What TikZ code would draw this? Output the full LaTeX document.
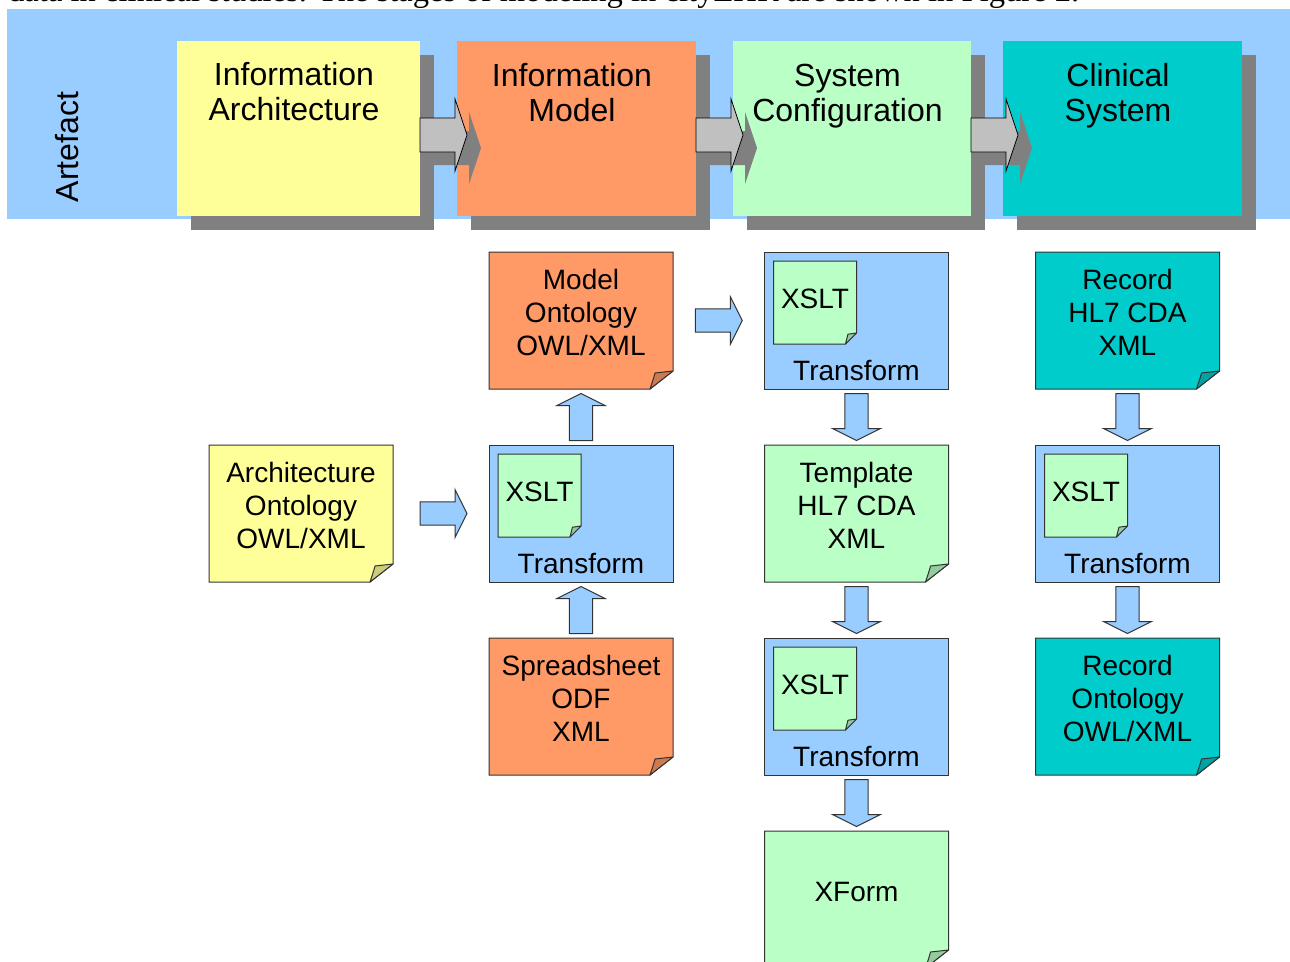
\documentclass[tikz,border=0pt]{standalone}
\usepackage{fontspec}
\setmainfont{Liberation Sans}
\newfontfamily\captionserif{Liberation Serif}
\usetikzlibrary{calc}
\definecolor{bandblue}{HTML}{99CCFF}
\definecolor{cyellow}{HTML}{FFFF99}
\definecolor{corange}{HTML}{FF9966}
\definecolor{cgreen}{HTML}{B9FFC6}
\definecolor{cteal}{HTML}{00CCCC}
\definecolor{cshadow}{HTML}{808080}
\definecolor{carrow}{HTML}{C0C0C0}
\definecolor{cline}{HTML}{333333}
\colorlet{cyellowd}{cyellow!80!black}
\colorlet{coranged}{corange!80!black}
\colorlet{cgreend}{cgreen!80!black}
\colorlet{ctead}{cteal!80!black}
% #1 node, #2 fill, #3 flap fill, #4 fold dx, #5 fold dy
\newcommand\foldbox[5]{%
  \filldraw[fill=#2,boxline] (#1.north west) -- (#1.north east) -- ($(#1.south east)+(0,-#5)$)
     -- ($(#1.south east)+(-#4,0)$) -- (#1.south west) -- cycle;
  \filldraw[fill=#3,boxline,line join=round] ($(#1.south east)+(0,-#5)$)
     -- ($(#1.south east)+(-0.78*#4,-0.89*#5)$)
     .. controls ($(#1.south east)+(-0.87*#4,-0.5*#5)$) .. ($(#1.south east)+(-#4,0)$) -- cycle;
}
\tikzset{
  boxline/.style={draw=cline, line width=1pt},
  stagebox/.style={inner sep=0pt, outer sep=0pt, minimum height=175pt},
  stagelabel/.style={anchor=north, inner sep=0pt, align=center, font=\fontsize{32}{35}\selectfont},
  docbox/.style={inner sep=0pt, outer sep=0pt, minimum width=184pt, minimum height=137pt},
  xsltbox/.style={inner sep=0pt, outer sep=0pt, minimum width=83pt, minimum height=83pt},
  doclabel/.style={anchor=north, inner sep=0pt, align=center, font=\fontsize{28}{33}\selectfont},
  transformbox/.style={docbox, fill=bandblue, boxline},
  pics/stagearrow/.style={code={
    \fill[cshadow, shift={(14,13)}] (0,-17) -- (35,-17) -- (35,-36) -- (47,0) -- (35,36) -- (35,17) -- (0,17) -- cycle;
    \filldraw[fill=carrow, draw=black, line width=0.8pt] (0,-17) -- (35,-17) -- (35,-36) -- (47,0) -- (35,36) -- (35,17) -- (0,17) -- cycle;
  }},
  pics/flowarrow/.style={code={
    \filldraw[fill=bandblue, boxline, line join=miter] (-23.5,-11.7) -- (11.5,-11.7) -- (11.5,-24) -- (23.5,0) -- (11.5,24) -- (11.5,11.7) -- (-23.5,11.7) -- cycle;
  }},
}
\begin{document}
\begin{tikzpicture}[x=1pt,y=-1pt]
\useasboundingbox (0,0) rectangle (1290,961);
% caption line cut at the top (as in the reference)
\node[anchor=base west, inner sep=0pt, font=\captionserif\fontsize{32.6}{36}\selectfont] (caption) at (8,1.5)
  {data in clinical studies. The stages of modeling in cityEHR are shown in Figure 2.};
% artefact band
\node[fill=bandblue, anchor=north west, inner sep=0pt, outer sep=0pt, minimum width=1283pt, minimum height=210pt] (band) at (7,9) {};
\node[rotate=90, inner sep=0pt, font=\fontsize{32}{35}\selectfont] (artefact) at (67,147) {Artefact};
% stage boxes
\coordinate (iaC) at (298.5,128.5);
\coordinate (imC) at (576.5,128.5);
\coordinate (scC) at (852,128.5);
\coordinate (csC) at (1122.5,128.5);
\node[stagebox, minimum width=243pt] (ia) at (iaC) {};
\node[stagebox, minimum width=239pt] (im) at (imC) {};
\node[stagebox, minimum width=238pt] (sc) at (scC) {};
\node[stagebox, minimum width=239pt] (cs) at (csC) {};
\foreach \n in {ia,im,sc,cs}{
  \fill[cshadow] ($(\n.north west)+(14,14)$) rectangle ($(\n.south east)+(14,14)$);
}
\fill[cyellow] (ia.north west) rectangle (ia.south east);
\fill[corange] (im.north west) rectangle (im.south east);
\fill[cgreen] (sc.north west) rectangle (sc.south east);
\fill[cteal] (cs.north west) rectangle (cs.south east);
\pic at ($(ia.east)+(0,6.5)$) {stagearrow};
\pic at ($(im.east)+(0,6.5)$) {stagearrow};
\pic at ($(sc.east)+(0,6.5)$) {stagearrow};
\node[stagelabel] (ial) at ($(ia.north)+(-4.5,20)$) {\strut Information\\Architecture};
\node[stagelabel] (iml) at ($(im.north)+(-4.5,20.5)$) {\strut Information\\Model};
\node[stagelabel] (scl) at ($(sc.north)+(-4.5,20.5)$) {\strut System\\Configuration};
\node[stagelabel] (csl) at ($(cs.north)+(-4.5,20.5)$) {\strut Clinical\\System};
% lower documents
\node[docbox] (arch) at (301,513.5) {};
\foldbox{arch}{cyellow}{cyellowd}{23}{18}
\node[doclabel] (archl) at ($(arch.north)+(0,14.4)$) {\strut Architecture\\Ontology\\OWL/XML};

\node[docbox] (modont) at (581,320.5) {};
\foldbox{modont}{corange}{coranged}{23}{18}
\node[doclabel] (modontl) at ($(modont.north)+(0,14.4)$) {\strut Model\\Ontology\\OWL/XML};

\node[transformbox] (trb) at (581,513.5) {};
\node[doclabel] (trbl) at ($(trb.north)+(0,105.2)$) {\strut Transform};
\node[xsltbox] (trbx) at ($(trb.north west)+(50.5,50.5)$) {};
\foldbox{trbx}{cgreen}{cgreend}{11}{11}
\node[doclabel] (trbxl) at ($(trbx.north)+(0,24.5)$) {\strut XSLT};

\node[docbox] (sheet) at (581,706.5) {};
\foldbox{sheet}{corange}{coranged}{23}{18}
\node[doclabel] (sheetl) at ($(sheet.north)+(0,14.4)$) {\strut Spreadsheet\\ODF\\XML};

\node[transformbox] (trc) at (856.5,320.5) {};
\node[doclabel] (trcl) at ($(trc.north)+(0,105.2)$) {\strut Transform};
\node[xsltbox] (trcx) at ($(trc.north west)+(50.5,50.5)$) {};
\foldbox{trcx}{cgreen}{cgreend}{11}{11}
\node[doclabel] (trcxl) at ($(trcx.north)+(0,24.5)$) {\strut XSLT};

\node[docbox] (tmpl) at (856.5,513.5) {};
\foldbox{tmpl}{cgreen}{cgreend}{23}{18}
\node[doclabel] (tmpll) at ($(tmpl.north)+(0,14.4)$) {\strut Template\\HL7 CDA\\XML};

\node[transformbox] (trd) at (856.5,706.5) {};
\node[doclabel] (trdl) at ($(trd.north)+(0,105.2)$) {\strut Transform};
\node[xsltbox] (trdx) at ($(trd.north west)+(50.5,50.5)$) {};
\foldbox{trdx}{cgreen}{cgreend}{11}{11}
\node[doclabel] (trdxl) at ($(trdx.north)+(0,24.5)$) {\strut XSLT};

\node[docbox] (xform) at (856.5,899.5) {};
\foldbox{xform}{cgreen}{cgreend}{23}{18}
\node[doclabel] (xforml) at ($(xform.north)+(0,47)$) {\strut XForm};

\node[docbox] (rec) at (1127.5,320.5) {};
\foldbox{rec}{cteal}{ctead}{23}{18}
\node[doclabel] (recl) at ($(rec.north)+(0,14.4)$) {\strut Record\\HL7 CDA\\XML};

\node[transformbox] (tre) at (1127.5,513.5) {};
\node[doclabel] (trel) at ($(tre.north)+(0,105.2)$) {\strut Transform};
\node[xsltbox] (trex) at ($(tre.north west)+(50.5,50.5)$) {};
\foldbox{trex}{cgreen}{cgreend}{11}{11}
\node[doclabel] (trexl) at ($(trex.north)+(0,24.5)$) {\strut XSLT};

\node[docbox] (recont) at (1127.5,706.5) {};
\foldbox{recont}{cteal}{ctead}{23}{18}
\node[doclabel] (recontl) at ($(recont.north)+(0,14.4)$) {\strut Record\\Ontology\\OWL/XML};

% flow arrows
\pic at ($(arch.east)!0.5!(trb.west)+(2.5,0)$) {flowarrow};
\pic at ($(modont.east)!0.5!(trc.west)$) {flowarrow};
\pic[rotate=90] at ($(trb.north)!0.5!(modont.south)$) {flowarrow};
\pic[rotate=90] at ($(sheet.north)!0.5!(trb.south)$) {flowarrow};
\pic[rotate=-90] at ($(trc.south)!0.5!(tmpl.north)$) {flowarrow};
\pic[rotate=-90] at ($(tmpl.south)!0.5!(trd.north)$) {flowarrow};
\pic[rotate=-90] at ($(trd.south)!0.5!(xform.north)$) {flowarrow};
\pic[rotate=-90] at ($(rec.south)!0.5!(tre.north)$) {flowarrow};
\pic[rotate=-90] at ($(tre.south)!0.5!(recont.north)$) {flowarrow};
\end{tikzpicture}
\end{document}
